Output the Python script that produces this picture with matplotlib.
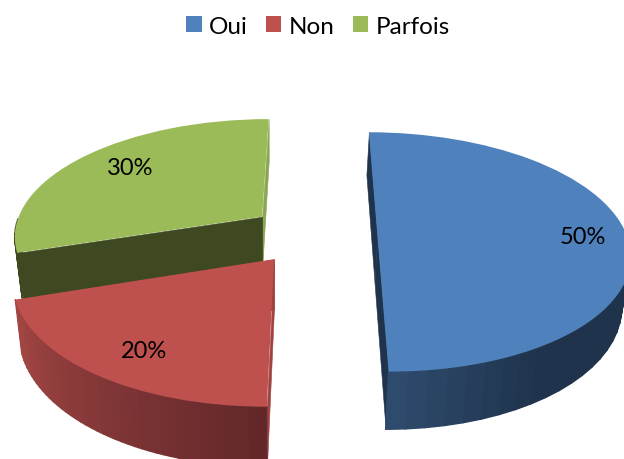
import numpy as np
import matplotlib
matplotlib.use("Agg")
import matplotlib.pyplot as plt
from matplotlib.collections import PolyCollection
from matplotlib.transforms import Transform
from matplotlib.colors import to_rgb

plt.rcParams['font.family'] = ['Lato', 'DejaVu Sans']

categories = ['Oui', 'Non', 'Parfois']
values = [50, 20, 30]
top_colors = ['#4F81BD', '#BE504D', '#9BBB59']
explode = [0.258, 0.258, 0.258]

X0, Y0, AX, BY, K = 313.0, 235.0, 249.0, 117.0, 0.15
DEPTH, VX, SHRINK = 49.0, 270.0, 0.975


def project(xy):
    xy = np.asarray(xy, float).reshape(-1, 2)
    d = 1 + K * xy[:, 1]
    return np.column_stack([X0 + AX * xy[:, 0] / d, Y0 - BY * xy[:, 1] / d])


def extrude(xy):
    xy = np.asarray(xy, float).reshape(-1, 2)
    p = project(xy)
    d = 1 + K * xy[:, 1]
    return np.column_stack([VX + (p[:, 0] - VX) * SHRINK, p[:, 1] + DEPTH / d])


class PieProjection(Transform):
    input_dims = 2
    output_dims = 2
    is_separable = False
    has_inverse = False

    def transform_non_affine(self, values):
        return project(values)


fig = plt.figure(figsize=(6.24, 4.6), dpi=100)
ax = fig.add_axes([0, 0, 1, 1])
wedges, texts, pcts = ax.pie(values, explode=explode, colors=top_colors, startangle=90,
                             counterclock=False, labels=None, autopct='%d%%',
                             textprops={'fontsize': 17, 'color': 'black'})
ax.set_aspect('auto')
ax.set_xlim(0, 624)
ax.set_ylim(460, 0)
ax.axis('off')

proj = PieProjection() + ax.transData


def lerp(c1, c2, t):
    a, b = np.array(to_rgb(c1)), np.array(to_rgb(c2))
    return tuple(a + (b - a) * t)


def wall_shade(i, th):
    th = (th + 180) % 360 - 180
    if i == 0:
        t = np.clip((th + 90) / 32, 0, 1)
        return lerp('#2F4B6E', '#1F344C', t)
    if i == 1:
        t = np.clip((th + 162) / 72, 0, 1)
        return lerp('#A64845', '#62272A', t)
    return '#3F4921'


# (edge at theta1, edge at theta2)
chord_colors = {
    0: ('#1F344C', '#1F344C'),
    1: ('#A04340', '#A04340'),
    2: ('#8BA653', '#3F4921'),
}
stack = {2: 1, 1: 5, 0: 9}

for i, w in enumerate(wedges):
    base = stack[i]
    cx, cy = w.center
    th = np.linspace(w.theta1, w.theta2, 46)
    arc = np.column_stack([cx + w.r * np.cos(np.radians(th)), cy + w.r * np.sin(np.radians(th))])
    top, bot = project(arc), extrude(arc)
    quads, cols = [], []
    for j in range(len(th) - 1):
        mid = 0.5 * (th[j] + th[j + 1])
        if np.sin(np.radians(mid)) < 0:  # only the near side of the rim faces the viewer
            quads.append([top[j], top[j + 1], bot[j + 1], bot[j]])
            cols.append(wall_shade(i, mid))
    ax.add_collection(PolyCollection(quads, facecolors=cols, edgecolors=cols, linewidths=1.0,
                                     zorder=base + 1))
    apex = np.array([[cx, cy]])
    for tip, col in ((arc[0:1], chord_colors[i][0]), (arc[-1:], chord_colors[i][1])):
        q = np.vstack([project(apex), project(tip), extrude(tip), extrude(apex)])
        ax.add_collection(PolyCollection([q], facecolors=[col], edgecolors=[col], linewidths=0.4,
                                         zorder=base))
    w.set_transform(proj)
    w.set_zorder(base + 2)

label_xy = [(583, 238), (144, 352), (130, 169)]
for t, xy in zip(pcts, label_xy):
    t.set_position(xy)
    t.set_zorder(20)
    t.set_ha('center')
    t.set_va('center')

ax.legend(wedges, categories, loc='center', bbox_to_anchor=(318 / 624, 1 - 27 / 460), ncol=3,
          frameon=False, fontsize=17.5, handlelength=0.62, handleheight=0.62, handletextpad=0.3,
          columnspacing=0.76, borderpad=0, labelspacing=0)

fig.savefig('out.png', dpi=100)
